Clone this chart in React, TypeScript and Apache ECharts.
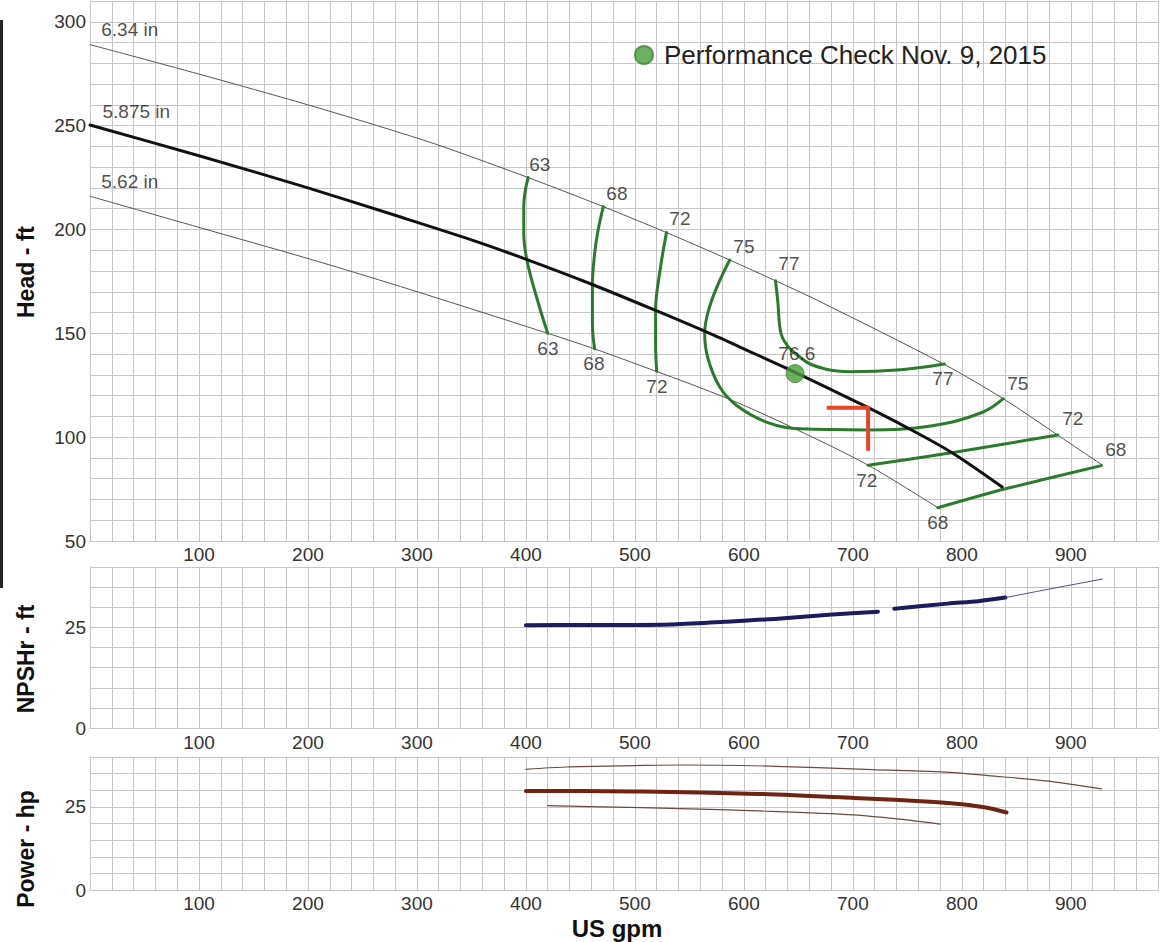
import React, { useEffect, useRef } from "react";
import * as echarts from "echarts";

// ---------- DATA ----------
const X_TICKS = [100, 200, 300, 400, 500, 600, 700, 800, 900];
const HEAD_TICKS = [50, 100, 150, 200, 250, 300];
const LOW_TICKS = [0, 25];

// Head curves (US gpm, ft)
const HEAD_634: number[][] = [[0, 289], [100, 274.8], [200, 260], [285, 246.5], [327, 239.3], [402, 225], [471, 211], [529, 198.5], [587, 185.3], [629, 175.3], [667, 166], [784, 135], [838, 118.5], [888, 101], [929, 86.5]];
const HEAD_5875: number[][] = [[0, 250.3], [100, 235.5], [200, 220], [285, 206], [350, 195], [401, 185.5], [461, 173.5], [519, 161], [564, 151], [600, 142.5], [648, 131], [709, 115.5], [750, 104.5], [791, 92.5], [837, 76]];
const HEAD_562: number[][] = [[0, 216], [100, 201], [200, 186], [285, 172.5], [420, 150], [463, 142.5], [520, 131.6], [559, 124], [597, 116], [647, 104], [714, 86.5], [778, 66]];

// Iso-efficiency curves
const EFF_63: number[][] = [[402, 225], [398, 211], [398, 198], [401, 185], [410, 167], [420, 150]];
const EFF_68: number[][] = [[471, 211], [466, 199], [463, 188], [461, 173], [461, 155], [463, 142.5]];
const EFF_72: number[][] = [[529, 198.5], [523, 180], [519, 161], [519, 145], [520, 131.6]];
const EFF_75: number[][] = [[587, 185.3], [575, 172], [567, 160], [564, 150], [567, 138], [578, 124], [594, 115], [622, 107], [651, 104], [713, 103.5], [773, 105.5], [819, 112], [838, 118.5]];
const EFF_77: number[][] = [[629, 175.3], [631, 166], [634, 150], [640, 144], [648, 140], [664, 134.5], [697, 131.5], [744, 132.5], [784, 135.2]];
const EFF_72B: number[][] = [[714, 86.5], [792, 92.6], [888, 101]];
const EFF_68B: number[][] = [[778, 66], [839, 75], [928, 86.3]];

// Performance check point & red marker
const PERF_POINT: number[][] = [[647, 130.6]];
const RED_MARK: number[][] = [[676, 114.2], [714, 114.2], [714, 93.4]];

// Curve labels: text and anchor (gpm, ft)
const HEAD_LABEL_TEXT = ["6.34 in", "5.875 in", "5.62 in"];
const HEAD_LABEL_AT: number[][] = [[36.5, 296.1], [42.5, 256.6], [36.5, 223.3]];
const EFF_LABEL_TEXT = ["63", "68", "72", "75", "77", "63", "68", "72", "76.6", "77", "75", "72", "68", "72", "68"];
const EFF_LABEL_AT: number[][] = [[412.8, 231.5], [483.5, 217.5], [541.3, 205.4], [600, 191.9], [641.3, 183.7], [420.2, 142.7], [462.4, 135.4], [520.2, 124.3], [648.6, 140.3], [782.6, 128.2], [851.4, 125.8], [901.8, 108.9], [941.3, 93.9], [712.8, 79.0], [778, 58.7]];

// NPSHr (ft)
const NPSH_A: number[][] = [[400, 25.5], [450, 25.6], [500, 25.6], [532, 25.7], [582, 26.4], [628, 27.1], [681, 28.2], [723, 28.9]];
const NPSH_B: number[][] = [[738, 29.6], [787, 30.9], [815, 31.5], [840, 32.4]];
const NPSH_EXT: number[][] = [[840, 32.4], [876, 34.3], [929, 37]];

// Power (hp)
const POWER_634: number[][] = [[400, 36.3], [437, 37], [500, 37.4], [542, 37.6], [630, 37.2], [718, 36.2], [789, 35.4], [824, 34.4], [877, 32.8], [928, 30.4]];
const POWER_5875: number[][] = [[400, 29.8], [450, 29.8], [507, 29.6], [613, 28.9], [701, 27.7], [775, 26.5], [800, 25.8], [822, 24.8], [841, 23.3]];
const POWER_562: number[][] = [[420, 25.4], [470, 25], [542, 24.5], [613, 23.8], [701, 22.6], [743, 21.3], [780, 19.8]];

const LEGEND_NAME = "Performance Check Nov. 9, 2015";

// ---------- CHART ----------
const FONT = "'Liberation Sans', Arial, Helvetica, sans-serif";
const GRID_COLOR = "#c6c6c6";
const GREEN = "#2b7a2e";

function lineSeries(name: string, data: number[][], color: string, width: number, axis: number, smooth: number | boolean = 0.3, z = 3) {
  return {
    type: "line",
    name,
    data,
    xAxisIndex: axis,
    yAxisIndex: axis,
    symbol: "none",
    showSymbol: false,
    smooth,
    silent: true,
    z,
    lineStyle: { color, width, cap: "round", join: "round" },
  };
}

function xAxis(gridIndex: number, margin: number) {
  return {
    type: "value",
    gridIndex,
    min: 0,
    max: 980,
    interval: 20,
    axisLine: { show: true, lineStyle: { color: GRID_COLOR } },
    axisTick: { show: false },
    splitLine: { show: true, lineStyle: { color: GRID_COLOR, width: 1 } },
    axisLabel: {
      margin,
      fontSize: 19,
      color: "#333",
      fontFamily: FONT,
      formatter: (v: number) => (X_TICKS.includes(v) ? String(v) : ""),
    },
  };
}

function yAxis(gridIndex: number, min: number, max: number, interval: number, ticks: number[]) {
  return {
    type: "value",
    gridIndex,
    min,
    max,
    interval,
    axisLine: { show: true, lineStyle: { color: GRID_COLOR } },
    axisTick: { show: false },
    splitLine: { show: true, lineStyle: { color: GRID_COLOR, width: 1 } },
    axisLabel: {
      margin: 4,
      fontSize: 19,
      color: "#333",
      fontFamily: FONT,
      formatter: (v: number) => (ticks.includes(v) ? String(v) : ""),
    },
  };
}

function labelSeries(texts: string[], at: number[][]) {
  return {
    type: "scatter",
    xAxisIndex: 0,
    yAxisIndex: 0,
    symbol: "circle",
    symbolSize: 1,
    silent: true,
    z: 6,
    itemStyle: { color: "rgba(0,0,0,0)" },
    label: {
      show: true,
      position: "inside",
      formatter: (p: any) => p.name,
      color: "#222",
      fontSize: 19,
      fontFamily: FONT,
    },
    data: texts.map((t, i) => ({ name: t, value: at[i] })),
  };
}

export default function App() {
  const ref = useRef<HTMLDivElement>(null);

  useEffect(() => {
    if (!ref.current) return;
    const chart = echarts.init(ref.current, null, { renderer: "svg" });
    const titleFont = `bold 23px ${FONT}`;
    chart.setOption({
      animation: false,
      backgroundColor: "#ffffff",
      textStyle: { fontFamily: FONT },
      grid: [
        { left: 90, top: 1, width: 1068, height: 540 },
        { left: 90, top: 567, width: 1068, height: 161 },
        { left: 90, top: 757, width: 1068, height: 133 },
      ],
      xAxis: [xAxis(0, 4), xAxis(1, 5), xAxis(2, 4)],
      yAxis: [yAxis(0, 50, 310, 10, HEAD_TICKS), yAxis(1, 0, 40, 5, LOW_TICKS), yAxis(2, 0, 40, 5, LOW_TICKS)],
      legend: {
        show: true,
        data: [{ name: LEGEND_NAME, icon: "circle" }],
        left: 634,
        top: 42,
        padding: 0,
        itemWidth: 18,
        itemHeight: 18,
        selectedMode: false,
        textStyle: { fontSize: 26, color: "#222", fontFamily: FONT, padding: [0, 0, 0, 6] },
      },
      graphic: [
        { type: "rect", left: 0, top: 20, shape: { width: 3, height: 568 }, style: { fill: "#222" } },
        { type: "text", x: 26, y: 272, rotation: Math.PI / 2, style: { text: "Head - ft", font: titleFont, fill: "#111", align: "center", verticalAlign: "middle" } },
        { type: "text", x: 26, y: 659, rotation: Math.PI / 2, style: { text: "NPSHr - ft", font: titleFont, fill: "#111", align: "center", verticalAlign: "middle" } },
        { type: "text", x: 26, y: 849, rotation: Math.PI / 2, style: { text: "Power - hp", font: titleFont, fill: "#111", align: "center", verticalAlign: "middle" } },
        { type: "text", x: 617, y: 928, style: { text: "US gpm", font: `bold 24px ${FONT}`, fill: "#111", align: "center", verticalAlign: "middle" } },
      ],
      series: [
        lineSeries("6.34 in", HEAD_634, "#555", 1, 0),
        lineSeries("5.62 in", HEAD_562, "#555", 1, 0),
        lineSeries("5.875 in", HEAD_5875, "#111", 3, 0, 0.3, 4),
        lineSeries("63", EFF_63, GREEN, 3, 0, 0.4),
        lineSeries("68", EFF_68, GREEN, 3, 0, 0.4),
        lineSeries("72", EFF_72, GREEN, 3, 0, 0.4),
        lineSeries("75", EFF_75, GREEN, 3, 0, 0.4),
        lineSeries("77", EFF_77, GREEN, 3, 0, 0.4),
        lineSeries("72 b", EFF_72B, GREEN, 3, 0, 0.2),
        lineSeries("68 b", EFF_68B, GREEN, 3, 0, 0.2),
        { ...lineSeries("marker", RED_MARK, "#e8432c", 4, 0, false, 5), lineStyle: { color: "#e8432c", width: 4, cap: "butt", join: "miter" } },
        {
          type: "scatter",
          name: LEGEND_NAME,
          xAxisIndex: 0,
          yAxisIndex: 0,
          symbol: "circle",
          symbolSize: 18,
          z: 7,
          itemStyle: { color: "#4a9c3c", borderColor: "#3a8a30", borderWidth: 1 },
          data: PERF_POINT,
        },
        labelSeries(HEAD_LABEL_TEXT, HEAD_LABEL_AT),
        labelSeries(EFF_LABEL_TEXT, EFF_LABEL_AT),
        lineSeries("NPSHr a", NPSH_A, "#1c1c5c", 4, 1),
        lineSeries("NPSHr b", NPSH_B, "#1c1c5c", 4, 1),
        lineSeries("NPSHr ext", NPSH_EXT, "#4a4a7a", 1, 1),
        lineSeries("Power 6.34", POWER_634, "#6b4a40", 1.2, 2),
        lineSeries("Power 5.875", POWER_5875, "#6e2415", 4, 2),
        lineSeries("Power 5.62", POWER_562, "#6b4a40", 1.2, 2),
      ],
    });
    return () => chart.dispose();
  }, []);

  return <div ref={ref} style={{ position: "absolute", left: 0, top: 0, width: 1166, height: 942 }} />;
}
